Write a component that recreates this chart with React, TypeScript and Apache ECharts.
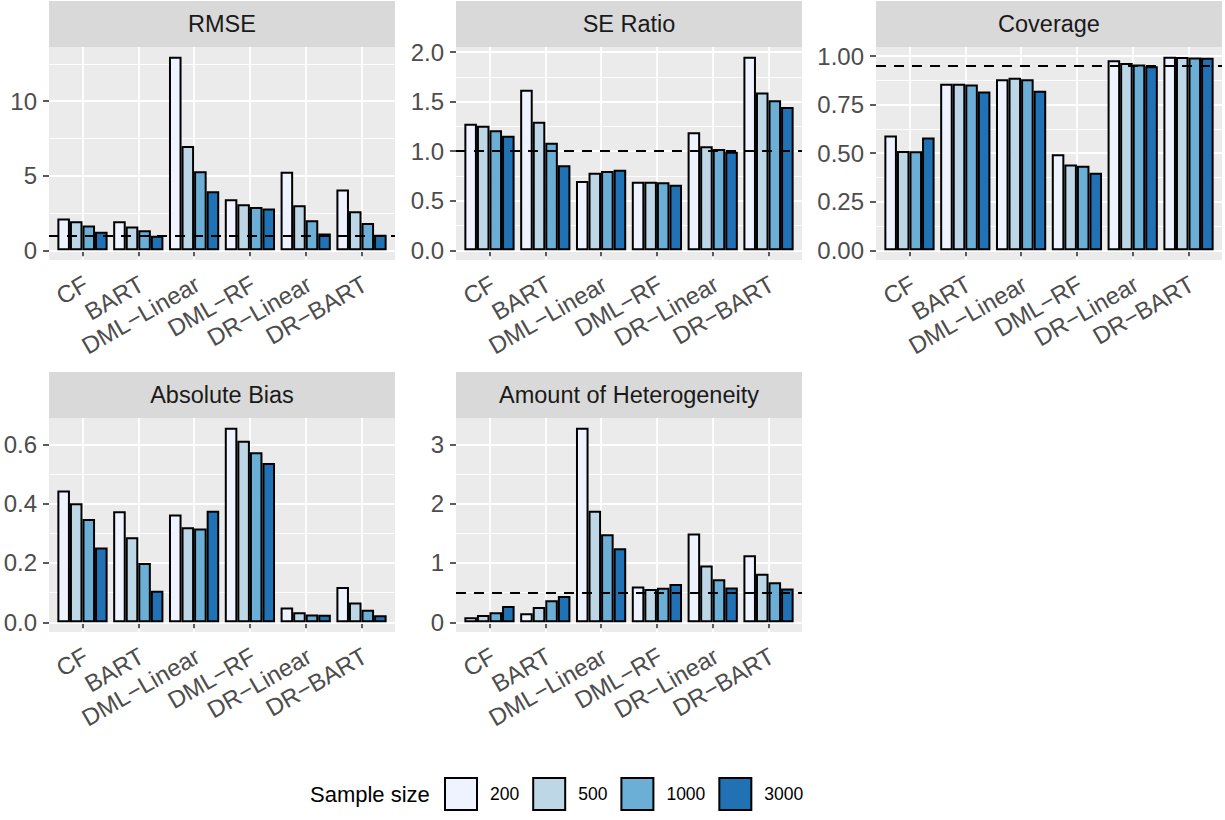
import React, { useEffect, useRef } from 'react';
import * as echarts from 'echarts';

// ---------- data ----------
const categories = ['CF', 'BART', 'DML\u2212Linear', 'DML\u2212RF', 'DR\u2212Linear', 'DR\u2212BART'];
const sampleSizes = ['200', '500', '1000', '3000'];
const fillColors = ['#EFF3FF', '#BDD7E7', '#6BAED6', '#2171B5'];

const panelTitles = ['RMSE', 'SE Ratio', 'Coverage', 'Absolute Bias', 'Amount of Heterogeneity'];

const rmse200 = [2.13, 1.95, 12.98, 3.42, 5.26, 4.07];
const rmse500 = [1.95, 1.59, 7.0, 3.09, 3.02, 2.62];
const rmse1000 = [1.66, 1.34, 5.3, 2.91, 2.01, 1.83];
const rmse3000 = [1.25, 0.98, 3.96, 2.8, 1.12, 1.05];

const se200 = [1.277, 1.62, 0.7, 0.692, 1.19, 1.953];
const se500 = [1.257, 1.297, 0.783, 0.692, 1.049, 1.593];
const se1000 = [1.21, 1.086, 0.8, 0.686, 1.022, 1.513];
const se3000 = [1.156, 0.857, 0.813, 0.662, 0.995, 1.445];

const cov200 = [0.591, 0.857, 0.881, 0.495, 0.979, 0.997];
const cov500 = [0.512, 0.857, 0.888, 0.442, 0.964, 0.995];
const cov1000 = [0.51, 0.854, 0.881, 0.435, 0.957, 0.993];
const cov3000 = [0.581, 0.818, 0.821, 0.4, 0.948, 0.991];

const bias200 = [0.444, 0.374, 0.363, 0.656, 0.05, 0.119];
const bias500 = [0.401, 0.287, 0.32, 0.612, 0.034, 0.067];
const bias1000 = [0.348, 0.2, 0.316, 0.573, 0.026, 0.042];
const bias3000 = [0.252, 0.106, 0.376, 0.537, 0.025, 0.024];

const het200 = [0.084, 0.152, 3.28, 0.602, 1.497, 1.131];
const het500 = [0.124, 0.259, 1.88, 0.563, 0.957, 0.816];
const het1000 = [0.169, 0.371, 1.486, 0.58, 0.726, 0.675];
const het3000 = [0.276, 0.445, 1.249, 0.647, 0.585, 0.568];

const rmseTicks = [0, 5, 10];
const rmseMinor = [2.5, 7.5, 12.5];
const seTicks = [0, 0.5, 1, 1.5, 2];
const seMinor = [0.25, 0.75, 1.25, 1.75];
const covTicks = [0, 0.25, 0.5, 0.75, 1];
const covMinor = [0.125, 0.375, 0.625, 0.875];
const biasTicks = [0, 0.2, 0.4, 0.6];
const biasMinor = [0.1, 0.3, 0.5];
const hetTicks = [0, 1, 2, 3];
const hetMinor = [0.5, 1.5, 2.5];

const referenceLines: (number | null)[] = [1, 1, 0.95, null, 0.5];
const tickDecimals = [0, 1, 2, 1, 0];

const panelSeries = [
  [rmse200, rmse500, rmse1000, rmse3000],
  [se200, se500, se1000, se3000],
  [cov200, cov500, cov1000, cov3000],
  [bias200, bias500, bias1000, bias3000],
  [het200, het500, het1000, het3000],
];
const panelTicks = [rmseTicks, seTicks, covTicks, biasTicks, hetTicks];
const panelMinor = [rmseMinor, seMinor, covMinor, biasMinor, hetMinor];

// ---------- layout ----------
const FONT = '"Liberation Sans", Arial, Helvetica, sans-serif';
const PW = 346;
const panelBoxes = [
  { left: 49, top: 47, height: 213 },
  { left: 456, top: 47, height: 213 },
  { left: 876, top: 47, height: 213 },
  { left: 49, top: 418, height: 214 },
  { left: 456, top: 418, height: 214 },
];
const STRIP_H = 46;

function expandedRange(seriesList: number[][], ref: number | null): [number, number] {
  let lo = 0;
  let hi = 0;
  seriesList.forEach((arr) => arr.forEach((v) => { lo = Math.min(lo, v); hi = Math.max(hi, v); }));
  if (ref !== null) { lo = Math.min(lo, ref); hi = Math.max(hi, ref); }
  const pad = (hi - lo) * 0.05;
  return [lo - pad, hi + pad];
}

function buildOption() {
  const grid: any[] = [];
  const xAxis: any[] = [];
  const yAxis: any[] = [];
  const series: any[] = [];
  const graphic: any[] = [];

  panelTitles.forEach((title, i) => {
    const box = panelBoxes[i];
    grid.push({
      left: box.left, top: box.top, width: PW, height: box.height,
      show: true, backgroundColor: '#EBEBEB', borderWidth: 0, containLabel: false,
    });
    const [ymin, ymax] = expandedRange(panelSeries[i], referenceLines[i]);
    const catIdx = categories.map((_, k) => k + 1);
    xAxis.push({
      type: 'value', gridIndex: i, min: 0.4, max: 6.6,
      axisLine: { show: false },
      axisTick: { show: true, length: 6, lineStyle: { color: '#333333', width: 1.6 }, customValues: catIdx },
      axisLabel: {
        customValues: catIdx, rotate: 30, margin: 10, align: 'right', verticalAlign: 'top',
        padding: [0, 3, 0, 0],
        formatter: (v: number) => categories[Math.round(v) - 1] ?? '',
        color: '#4D4D4D', fontSize: 24, fontFamily: FONT,
      },
      splitLine: { show: true, lineStyle: { color: '#FFFFFF', width: 1.8 } },
    });
    const dec = tickDecimals[i];
    yAxis.push({
      type: 'value', gridIndex: i, min: ymin, max: ymax,
      axisLine: { show: false },
      axisTick: { show: true, length: 6, lineStyle: { color: '#333333', width: 1.6 }, customValues: panelTicks[i] },
      axisLabel: {
        customValues: panelTicks[i], margin: 12,
        formatter: (v: number) => v.toFixed(dec),
        color: '#4D4D4D', fontSize: 24, fontFamily: FONT,
      },
      splitLine: { show: true, lineStyle: { color: '#FFFFFF', width: 1.8 } },
      z: 1,
    });
    graphic.push({
      type: 'rect', silent: true,
      shape: { x: box.left, y: box.top - STRIP_H, width: PW, height: STRIP_H },
      style: { fill: '#D9D9D9' },
    });
    graphic.push({
      type: 'text', silent: true,
      x: box.left + PW / 2, y: box.top - STRIP_H / 2,
      style: {
        text: title, fill: '#1A1A1A', fontSize: 23.5, fontFamily: FONT,
        align: 'center', verticalAlign: 'middle',
      },
    });
  });
  // minor grid axes
  panelTitles.forEach((_, i) => {
    const [ymin, ymax] = expandedRange(panelSeries[i], referenceLines[i]);
    yAxis.push({
      type: 'value', gridIndex: i, min: ymin, max: ymax,
      axisLine: { show: false },
      axisTick: { show: false, customValues: panelMinor[i] },
      axisLabel: { show: false, customValues: panelMinor[i] },
      splitLine: { show: true, lineStyle: { color: '#FFFFFF', width: 0.9 } },
      z: 0,
    });
  });

  panelTitles.forEach((_, i) => {
    const barW = (PW / 6.2) * 0.9 / 4;
    panelSeries[i].forEach((vals, j) => {
      const s: any = {
        type: 'bar', name: sampleSizes[j], xAxisIndex: i, yAxisIndex: i,
        data: vals.map((v, k) => [k + 1, v]),
        barWidth: barW, barGap: '0%',
        itemStyle: { color: fillColors[j], borderColor: '#000000', borderWidth: 2 },
        emphasis: { disabled: true },
        z: 3,
      };
      const ref = referenceLines[i];
      if (j === 3 && ref !== null) {
        s.markLine = {
          silent: true, symbol: ['none', 'none'], label: { show: false },
          lineStyle: { color: '#000000', type: [10, 8], width: 2.2 },
          data: [{ yAxis: ref }],
          animation: false,
        };
      }
      series.push(s);
    });
  });

  graphic.push({
    type: 'text', silent: true, x: 310, y: 794,
    style: { text: 'Sample size', fill: '#000000', fontSize: 22, fontFamily: FONT, align: 'left', verticalAlign: 'middle' },
  });

  return {
    animation: false,
    backgroundColor: '#FFFFFF',
    grid, xAxis, yAxis, series, graphic,
    legend: {
      show: true, selectedMode: false, orient: 'horizontal', left: 444, top: 777, padding: 0,
      itemWidth: 32, itemHeight: 32, itemGap: 13, icon: 'rect',
      data: sampleSizes.map((s, j) => ({
        name: s, icon: 'rect',
        itemStyle: { color: fillColors[j], borderColor: '#000000', borderWidth: 2 },
      })),
      formatter: (name: string) => `{p|}${name}`,
      textStyle: {
        color: '#000000', fontSize: 17.5, fontFamily: FONT,
        rich: { p: { width: 8 } },
      },
    },
  };
}

export default function App() {
  const ref = useRef<HTMLDivElement>(null);
  useEffect(() => {
    document.body.style.margin = '0';
    if (!ref.current) return;
    const chart = echarts.init(ref.current, undefined, { renderer: 'svg' });
    chart.setOption(buildOption() as any);
    return () => chart.dispose();
  }, []);
  return <div ref={ref} style={{ width: 1225, height: 820, position: 'absolute', left: 0, top: 0 }} />;
}
